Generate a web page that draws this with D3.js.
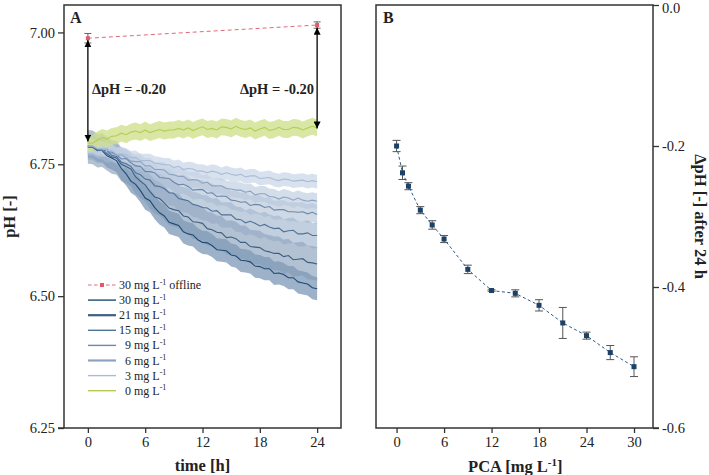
<!DOCTYPE html>
<html>
<head>
<meta charset="utf-8">
<script src="https://cdn.jsdelivr.net/npm/d3@7"></script>
<style>
  html, body { margin: 0; padding: 0; background: #fff; }
  svg { display: block; }
  text { font-family: "Liberation Serif", "Times New Roman", serif; fill: #222; }
</style>
</head>
<body>
<svg id="chart" width="709" height="475"></svg>
<script>
// ---------------- DATA ----------------
const hours = [0,0.5,1,1.5,2,2.5,3,3.5,4,4.5,5,5.5,6,6.5,7,7.5,8,8.5,9,9.5,10,10.5,11,11.5,12,12.5,13,13.5,14,14.5,15,15.5,16,16.5,17,17.5,18,18.5,19,19.5,20,20.5,21,21.5,22,22.5,23,23.5,24];
const ph30 = [6.785,6.784,6.777,6.776,6.766,6.762,6.757,6.742,6.732,6.718,6.712,6.700,6.686,6.681,6.668,6.658,6.652,6.640,6.637,6.634,6.622,6.618,6.616,6.607,6.602,6.601,6.596,6.588,6.587,6.586,6.578,6.576,6.568,6.567,6.565,6.557,6.556,6.552,6.552,6.543,6.544,6.541,6.535,6.535,6.527,6.525,6.523,6.516,6.514];
const ph21 = [6.783,6.782,6.776,6.777,6.770,6.764,6.762,6.750,6.746,6.741,6.726,6.718,6.711,6.698,6.688,6.685,6.677,6.667,6.664,6.662,6.652,6.650,6.641,6.640,6.638,6.628,6.626,6.621,6.620,6.611,6.612,6.609,6.602,6.602,6.594,6.593,6.592,6.586,6.584,6.581,6.581,6.575,6.577,6.569,6.570,6.571,6.564,6.563,6.561];
const ph15 = [6.783,6.782,6.776,6.776,6.776,6.767,6.765,6.754,6.751,6.746,6.734,6.730,6.722,6.720,6.709,6.708,6.704,6.696,6.695,6.685,6.683,6.681,6.674,6.672,6.668,6.667,6.661,6.662,6.654,6.654,6.654,6.646,6.645,6.639,6.642,6.638,6.633,6.636,6.631,6.628,6.629,6.622,6.624,6.625,6.618,6.618,6.620,6.615,6.615];
const ph9  = [6.784,6.784,6.779,6.777,6.771,6.773,6.768,6.760,6.761,6.753,6.747,6.746,6.736,6.736,6.734,6.725,6.724,6.723,6.716,6.711,6.712,6.708,6.701,6.702,6.702,6.695,6.696,6.689,6.690,6.689,6.682,6.681,6.678,6.679,6.672,6.674,6.673,6.668,6.670,6.663,6.664,6.664,6.660,6.660,6.659,6.660,6.656,6.659,6.655];
const ph6  = [6.784,6.784,6.779,6.779,6.779,6.771,6.767,6.768,6.763,6.756,6.755,6.755,6.747,6.747,6.740,6.740,6.739,6.731,6.730,6.727,6.727,6.720,6.721,6.720,6.714,6.716,6.709,6.709,6.709,6.704,6.703,6.701,6.701,6.697,6.699,6.692,6.694,6.694,6.689,6.688,6.684,6.688,6.686,6.682,6.686,6.682,6.680,6.682,6.680];
const ph3  = [6.785,6.785,6.780,6.780,6.776,6.776,6.769,6.770,6.768,6.762,6.763,6.757,6.757,6.757,6.752,6.751,6.749,6.749,6.744,6.746,6.740,6.742,6.741,6.737,6.737,6.734,6.737,6.735,6.731,6.734,6.731,6.729,6.731,6.726,6.728,6.728,6.723,6.724,6.725,6.721,6.719,6.722,6.721,6.718,6.719,6.720,6.717,6.719,6.717];
const ph0  = [6.790,6.790,6.796,6.801,6.798,6.803,6.804,6.809,6.806,6.811,6.813,6.810,6.815,6.810,6.813,6.816,6.813,6.815,6.815,6.818,6.815,6.819,6.814,6.818,6.821,6.816,6.818,6.815,6.821,6.820,6.817,6.822,6.818,6.816,6.819,6.813,6.817,6.820,6.814,6.816,6.820,6.816,6.816,6.820,6.819,6.815,6.819,6.822,6.819];
const seriesNames = ["30 mg L", "21 mg L", "15 mg L", "9 mg L", "6 mg L", "3 mg L", "0 mg L"];
const seriesSpread = [0.022, 0.032, 0.024, 0.018, 0.015, 0.013, 0.016];

const offlineT = [0, 24];
const offlinePH = [6.989, 7.014];
const offlineErr = [0.009, 0.006];

const arrowT = [0, 24];
const arrowTop = [6.985, 7.009];
const arrowBottom = [6.793, 6.818];
const arrowLabels = ["\u0394pH = -0.20", "\u0394pH = -0.20"];

const pca = [0, 0.75, 1.5, 3, 4.5, 6, 9, 12, 15, 18, 21, 24, 27, 30];
const dph = [-0.200,-0.238,-0.257,-0.291,-0.312,-0.332,-0.375,-0.405,-0.409,-0.426,-0.451,-0.469,-0.493,-0.513];
const dphErr = [0.008,0.0095,0.005,0.005,0.006,0.005,0.006,0.001,0.005,0.008,0.022,0.005,0.010,0.014];

const xTicksA = [0, 6, 12, 18, 24];
const yTicksA = [6.25, 6.50, 6.75, 7.00];
const xTicksB = [0, 6, 12, 18, 24, 30];
const yTicksB = [-0.6, -0.4, -0.2, 0.0];

// ---------------- STYLE ----------------
const lineColors = ["#1f4a74", "#3b5f85", "#4f7298", "#6a88aa", "#8ba3c1", "#aabbd6", "#b5cc55"];
const bandColors = ["#7390b0", "#8199b6", "#90a7c2", "#a7b9d1", "#b8c7dc", "#c8d4e7", "#cfe08d"];
const bandOpacity = [0.7, 0.6, 0.55, 0.55, 0.6, 0.7, 0.8];
const axisColor = "#333";

const svg = d3.select("#chart");

const defs = svg.append("defs");
defs.append("marker").attr("id", "arrowhead")
  .attr("viewBox", "0 0 10 10").attr("refX", 10).attr("refY", 5)
  .attr("markerWidth", 7).attr("markerHeight", 7).attr("markerUnits", "userSpaceOnUse")
  .attr("orient", "auto-start-reverse")
  .append("path").attr("d", "M0,0 L10,5 L0,10 Z").attr("fill", "#000");

// ---------------- PANEL A ----------------
const A = { left: 64, right: 341, top: 5, bottom: 428 };
const xA = d3.scaleLinear().domain([-2.5, 26.5]).range([A.left, A.right]);
const yA = d3.scaleLinear().domain([6.25, 7.052]).range([A.bottom, A.top]);

const gA = svg.append("g");
const allSeries = [ph30, ph21, ph15, ph9, ph6, ph3, ph0];

allSeries.forEach((s, i) => {
  const area = d3.area()
    .x((d, j) => xA(hours[j]))
    .y0((d) => yA(d - seriesSpread[i]))
    .y1((d) => yA(d + seriesSpread[i]));
  gA.append("path").datum(s).attr("d", area)
    .attr("fill", bandColors[i]).attr("fill-opacity", bandOpacity[i]);
});
allSeries.forEach((s, i) => {
  const line = d3.line().x((d, j) => xA(hours[j])).y((d) => yA(d));
  gA.append("path").datum(s).attr("d", line)
    .attr("fill", "none").attr("stroke", lineColors[i]).attr("stroke-width", 1.1);
});

// offline
const offLine = d3.line().x((d, j) => xA(offlineT[j])).y(d => yA(d));
gA.append("path").datum(offlinePH).attr("d", offLine)
  .attr("fill", "none").attr("stroke", "#e06a7a").attr("stroke-width", 1).attr("stroke-dasharray", "4,3");
offlinePH.forEach((v, j) => {
  const x = xA(offlineT[j]);
  gA.append("line").attr("x1", x).attr("x2", x).attr("y1", yA(v - offlineErr[j])).attr("y2", yA(v + offlineErr[j]))
    .attr("stroke", "#666").attr("stroke-width", 1);
  [v - offlineErr[j], v + offlineErr[j]].forEach(e => {
    gA.append("line").attr("x1", x - 3.5).attr("x2", x + 3.5).attr("y1", yA(e)).attr("y2", yA(e))
      .attr("stroke", "#666").attr("stroke-width", 1);
  });
  gA.append("rect").attr("x", x - 2).attr("y", yA(v) - 2).attr("width", 4).attr("height", 4).attr("fill", "#e05a6a");
});

// arrows
arrowT.forEach((t, j) => {
  const x = xA(t);
  gA.append("line").attr("x1", x).attr("x2", x).attr("y1", yA(arrowTop[j])).attr("y2", yA(arrowBottom[j]))
    .attr("stroke", "#000").attr("stroke-width", 1.3)
    .attr("marker-start", "url(#arrowhead)").attr("marker-end", "url(#arrowhead)");
});
gA.append("text").attr("x", xA(arrowT[0]) + 4).attr("y", 94).attr("font-weight", "bold").attr("font-size", 14.5)
  .text(arrowLabels[0]);
gA.append("text").attr("x", xA(arrowT[1]) - 3).attr("y", 94).attr("font-weight", "bold").attr("font-size", 14.5)
  .attr("text-anchor", "end").text(arrowLabels[1]);

// frame
gA.append("rect").attr("x", A.left).attr("y", A.top).attr("width", A.right - A.left).attr("height", A.bottom - A.top)
  .attr("fill", "none").attr("stroke", axisColor).attr("stroke-width", 1.5);

const axA_x = gA.append("g").attr("transform", `translate(0,${A.bottom})`)
  .call(d3.axisBottom(xA).tickValues(xTicksA).tickFormat(d3.format("d")).tickSize(5).tickPadding(4));
const axA_y = gA.append("g").attr("transform", `translate(${A.left},0)`)
  .call(d3.axisLeft(yA).tickValues(yTicksA).tickFormat(d3.format(".2f")).tickSize(6).tickPadding(3));
[axA_x, axA_y].forEach(ax => {
  ax.select(".domain").remove();
  ax.selectAll("line").attr("stroke", axisColor).attr("stroke-width", 1.3);
  ax.selectAll("text").attr("font-size", 14.5).attr("font-family", "Liberation Serif").attr("fill", "#222");
});
gA.append("line").attr("x1", A.left - 6).attr("x2", A.left).attr("y1", A.bottom).attr("y2", A.bottom)
  .attr("stroke", axisColor).attr("stroke-width", 1.5);

gA.append("text").attr("x", A.left + 6).attr("y", 23).attr("font-weight", "bold").attr("font-size", 16).text("A");
gA.append("text").attr("x", (xA(0) + xA(24)) / 2).attr("y", 471).attr("text-anchor", "middle")
  .attr("font-weight", "bold").attr("font-size", 16.5).text("time [h]");
gA.append("text").attr("transform", `translate(15,${(A.top + A.bottom) / 2}) rotate(-90)`).attr("text-anchor", "middle")
  .attr("font-weight", "bold").attr("font-size", 16.5).text("pH [-]");

// legend
const lg = gA.append("g");
const legY0 = 285, legStep = 15.1, legX1 = 88, legX2 = 116, legTx = 119;
const legendEntries = [{ name: "30 mg L", suffix: " offline", offline: true }]
  .concat(seriesNames.map((n, i) => ({ name: n, idx: i })));
legendEntries.forEach((e, k) => {
  const y = legY0 + k * legStep;
  if (e.offline) {
    lg.append("line").attr("x1", legX1).attr("x2", legX2).attr("y1", y).attr("y2", y)
      .attr("stroke", "#e06a7a").attr("stroke-width", 1).attr("stroke-dasharray", "3.5,2.5");
    lg.append("rect").attr("x", (legX1 + legX2) / 2 - 2).attr("y", y - 2).attr("width", 4).attr("height", 4).attr("fill", "#e05a6a");
  } else {
    lg.append("line").attr("x1", legX1).attr("x2", legX2).attr("y1", y).attr("y2", y)
      .attr("stroke", lineColors[e.idx]).attr("stroke-width", e.idx === 1 || e.idx === 4 ? 2.2 : 1.4);
  }
  const single = /^\d\s/.test(e.name);
  const t = lg.append("text").attr("x", legTx + (single ? 6 : 0)).attr("y", y + 4).attr("font-size", 12);
  t.append("tspan").text(e.name);
  t.append("tspan").attr("dy", -4.5).attr("font-size", 8).text("-1");
  if (e.suffix) t.append("tspan").attr("dy", 4.5).attr("font-size", 12).text(e.suffix);
});

// ---------------- PANEL B ----------------
const B = { left: 376, right: 653, top: 5, bottom: 428 };
const xB = d3.scaleLinear().domain([-2.6, 32.4]).range([B.left, B.right]);
const yB = d3.scaleLinear().domain([-0.6, 0]).range([B.bottom, B.top]);
const gB = svg.append("g");

const lineB = d3.line().x((d, j) => xB(pca[j])).y(d => yB(d));
gB.append("path").datum(dph).attr("d", lineB).attr("fill", "none")
  .attr("stroke", "#2d5a86").attr("stroke-width", 1).attr("stroke-dasharray", "3,2.5");
dph.forEach((v, j) => {
  const x = xB(pca[j]);
  const lo = yB(v - dphErr[j]), hi = yB(v + dphErr[j]);
  gB.append("line").attr("x1", x).attr("x2", x).attr("y1", lo).attr("y2", hi).attr("stroke", "#555").attr("stroke-width", 1);
  [lo, hi].forEach(yy => gB.append("line").attr("x1", x - 4).attr("x2", x + 4).attr("y1", yy).attr("y2", yy)
    .attr("stroke", "#555").attr("stroke-width", 1));
  gB.append("rect").attr("x", x - 2.5).attr("y", yB(v) - 2.5).attr("width", 5).attr("height", 5).attr("fill", "#1b4168");
});

gB.append("rect").attr("x", B.left).attr("y", B.top).attr("width", B.right - B.left).attr("height", B.bottom - B.top)
  .attr("fill", "none").attr("stroke", axisColor).attr("stroke-width", 1.5);

const axB_x = gB.append("g").attr("transform", `translate(0,${B.bottom})`)
  .call(d3.axisBottom(xB).tickValues(xTicksB).tickFormat(d3.format("d")).tickSize(5).tickPadding(4));
const axB_y = gB.append("g").attr("transform", `translate(${B.right},0)`)
  .call(d3.axisRight(yB).tickValues(yTicksB).tickFormat(d => d === 0 ? "0.0" : d3.format(".1f")(d).replace("\u2212", "-")).tickSize(6).tickPadding(3));
[axB_x, axB_y].forEach(ax => {
  ax.select(".domain").remove();
  ax.selectAll("line").attr("stroke", axisColor).attr("stroke-width", 1.3);
  ax.selectAll("text").attr("font-size", 14.5).attr("font-family", "Liberation Serif").attr("fill", "#222");
});
axB_y.selectAll(".tick").filter(d => d === 0).select("text").attr("dy", "0.55em");
gB.append("line").attr("x1", B.right).attr("x2", B.right + 6).attr("y1", B.bottom).attr("y2", B.bottom)
  .attr("stroke", axisColor).attr("stroke-width", 1.5);

gB.append("text").attr("x", B.left + 7).attr("y", 23).attr("font-weight", "bold").attr("font-size", 16).text("B");
const tB = gB.append("text").attr("x", (xB(0) + xB(30)) / 2).attr("y", 472).attr("text-anchor", "middle")
  .attr("font-weight", "bold").attr("font-size", 16.5);
tB.append("tspan").text("PCA [mg L");
tB.append("tspan").attr("dy", -6).attr("font-size", 11).text("-1");
tB.append("tspan").attr("dy", 6).attr("font-size", 16.5).text("]");
gB.append("text").attr("transform", `translate(695,${(B.top + B.bottom) / 2}) rotate(90)`).attr("text-anchor", "middle")
  .attr("font-weight", "bold").attr("font-size", 16.5).text("\u0394pH [-] after 24 h");
</script>
</body>
</html>
